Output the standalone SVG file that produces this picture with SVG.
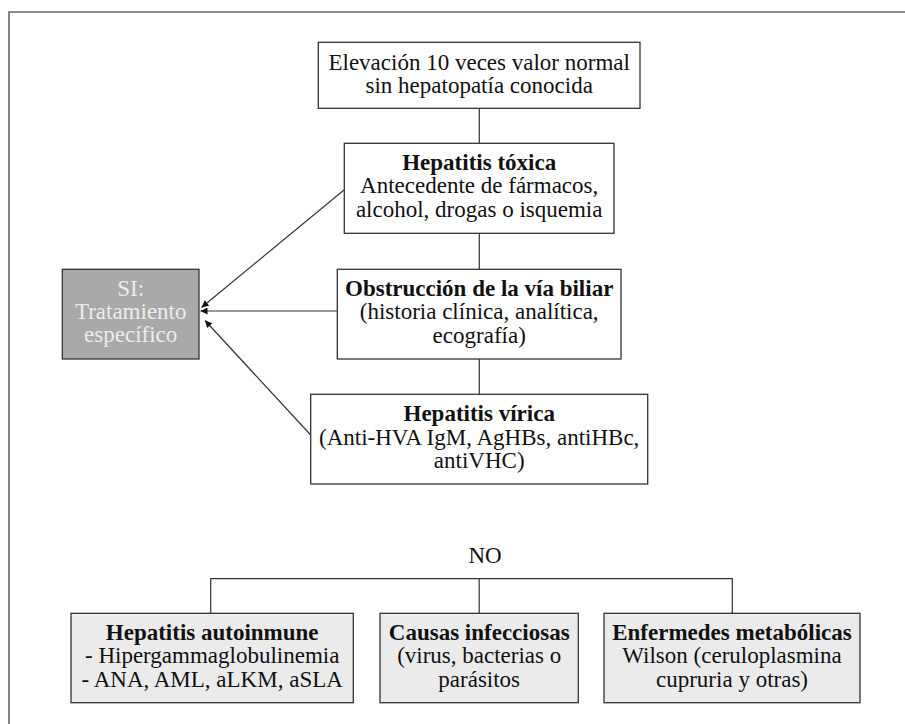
<svg xmlns="http://www.w3.org/2000/svg" width="905" height="724" viewBox="0 0 905 724">
<style>
text{font-family:"Liberation Serif","Times New Roman",serif;font-size:23px;fill:#111;text-anchor:middle}
.b{font-weight:bold}
.box{fill:#fff;stroke:#333;stroke-width:1.3}
.lb{fill:#ebebeb;stroke:#333;stroke-width:1.3}
.si{fill:#a9a9a9;stroke:#333;stroke-width:1.3}
.sit{fill:#ececec}
.ln{fill:none;stroke:#333;stroke-width:1.2}
</style>
<defs>
<marker id="ah" viewBox="0 0 10 10" refX="10" refY="5" markerWidth="9" markerHeight="7" markerUnits="userSpaceOnUse" orient="auto">
<path d="M0,0 L10,5 L0,10 Z" fill="#111"/>
</marker>
</defs>
<rect width="905" height="724" fill="#fff"/>
<path d="M9,724 V12 H905" fill="none" stroke="#666" stroke-width="1.6"/>
<g id="connectors">
<line class="ln" x1="479.3" y1="108.3" x2="479.3" y2="143.3"/>
<line class="ln" x1="479.3" y1="233.3" x2="479.3" y2="269.3"/>
<line class="ln" x1="479.3" y1="359" x2="479.3" y2="394.3"/>
<line class="ln" x1="344" y1="190" x2="201.5" y2="307.5" marker-end="url(#ah)"/>
<line class="ln" x1="337.3" y1="311" x2="200.5" y2="311" marker-end="url(#ah)"/>
<line class="ln" x1="310.7" y1="435" x2="205" y2="320.5" marker-end="url(#ah)"/>
<path class="ln" d="M210.7,613.3 V578.7 H732.3 V613.3 M479.2,578.7 V613.3"/>
</g>
<g id="n-elevacion">
<rect class="box" x="318.3" y="42.3" width="321.7" height="66"/>
<text x="479.2" y="69.5">Elevación 10 veces valor normal</text>
<text x="479.2" y="92.7">sin hepatopatía conocida</text>
</g>
<g id="n-toxica">
<rect class="box" x="344.3" y="143.3" width="269.7" height="90"/>
<text class="b" x="479.2" y="170">Hepatitis tóxica</text>
<text x="479.2" y="193.3">Antecedente de fármacos,</text>
<text x="479.2" y="216.6">alcohol, drogas o isquemia</text>
</g>
<g id="n-obstruccion">
<rect class="box" x="337.3" y="269.3" width="283.7" height="89.7"/>
<text class="b" x="479.2" y="296">Obstrucción de la vía biliar</text>
<text x="479.2" y="319.3">(historia clínica, analítica,</text>
<text x="479.2" y="342.6">ecografía)</text>
</g>
<g id="n-virica">
<rect class="box" x="310.7" y="394.3" width="337" height="89.7"/>
<text class="b" x="479.2" y="421">Hepatitis vírica</text>
<text x="479.2" y="444.5">(Anti-HVA IgM, AgHBs, antiHBc,</text>
<text x="479.2" y="467.8">antiVHC)</text>
</g>
<g id="n-si">
<rect class="si" x="62.3" y="269.3" width="136.7" height="89.7"/>
<text class="sit" x="130.7" y="296">SI:</text>
<text class="sit" x="130.7" y="319.3">Tratamiento</text>
<text class="sit" x="130.7" y="342.3">específico</text>
</g>
<g id="l-no">
<text x="485" y="562.5">NO</text>
</g>
<g id="n-autoinmune">
<rect class="lb" x="71" y="613.3" width="282.3" height="89.4"/>
<text class="b" x="212.2" y="640">Hepatitis autoinmune</text>
<text x="212.2" y="663.3">- Hipergammaglobulinemia</text>
<text x="212.2" y="686.6">- ANA, AML, aLKM, aSLA</text>
</g>
<g id="n-infecciosas">
<rect class="lb" x="380" y="613.3" width="198.3" height="89.4"/>
<text class="b" x="479.2" y="640">Causas infecciosas</text>
<text x="479.2" y="663.3">(virus, bacterias o</text>
<text x="479.2" y="686.6">parásitos</text>
</g>
<g id="n-metabolicas">
<rect class="lb" x="604" y="613.3" width="256" height="89.4"/>
<text class="b" x="732" y="640">Enfermedes metabólicas</text>
<text x="732" y="663.3">Wilson (ceruloplasmina</text>
<text x="732" y="686.6">cupruria y otras)</text>
</g>
</svg>
